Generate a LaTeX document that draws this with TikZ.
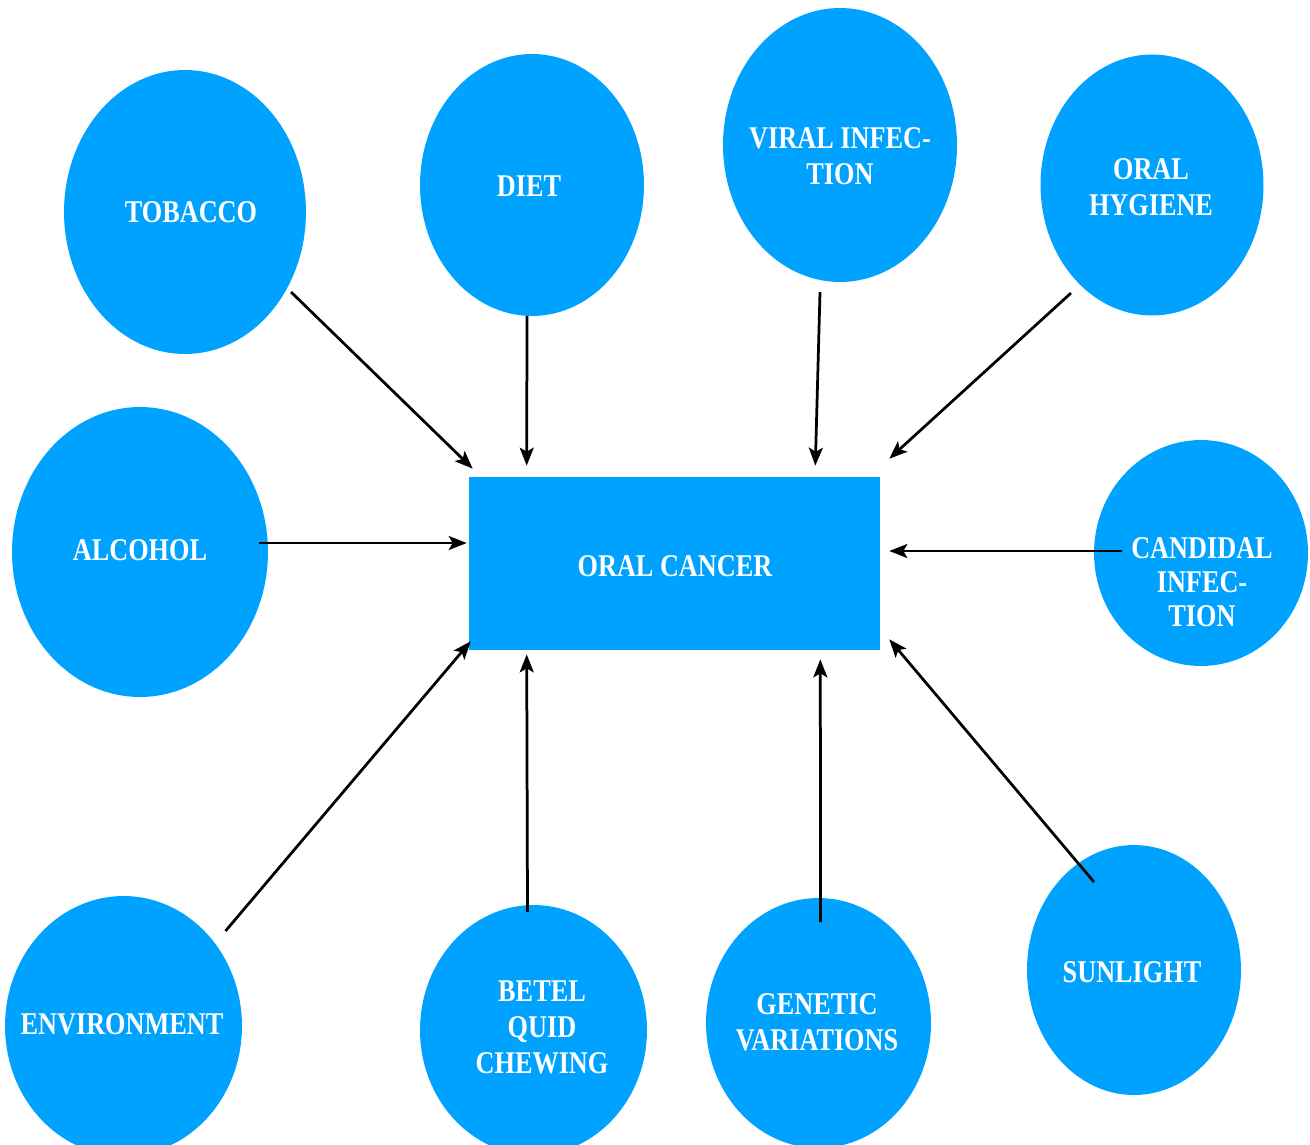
\documentclass[tikz,border=0pt]{standalone}
\usepackage{fontspec}
\usetikzlibrary{shapes.geometric,arrows.meta,calc}
\newfontfamily\lab[FakeStretch=0.83]{Liberation Serif}
\definecolor{bubble}{RGB}{0,162,255}
\begin{document}
\begin{tikzpicture}[x=0.02cm,y=-0.02cm,
  bub/.style={ellipse,fill=bubble,draw=none,inner sep=0pt},
  box/.style={rectangle,fill=bubble,draw=none,inner sep=0pt,
    minimum width=8.22cm,minimum height=3.46cm},
  txt/.style={text=white,align=center,font=\lab\bfseries\fontsize{18}{20.5}\selectfont,inner sep=0pt},
  arr/.style={draw=black,line width=0.055cm,
    -{Stealth[length=0.36cm,width=0.28cm,inset=0.08cm]}}]
\clip (0,0) rectangle (1310,1144);
\fill[white] (0,0) rectangle (1310,1144);

% central box
\node[box] (oc) at (674.5,563.5) {};
\node[txt] (oct) at (675,566) {ORAL CANCER};

% risk-factor bubbles
\node[bub,minimum width=4.84cm,minimum height=5.68cm] (tob) at (185,212) {};
\node[bub,minimum width=4.48cm,minimum height=5.24cm] (diet) at (532,185) {};
\node[bub,minimum width=4.68cm,minimum height=5.48cm] (vir) at (840,145) {};
\node[bub,minimum width=4.46cm,minimum height=5.22cm] (hyg) at (1152,185) {};
\node[bub,minimum width=5.12cm,minimum height=5.80cm] (alc) at (140,552) {};
\node[bub,minimum width=4.28cm,minimum height=4.52cm] (cand) at (1201,553) {};
\node[bub,minimum width=4.74cm,minimum height=5.20cm] (env) at (123.5,1026) {};
\node[bub,minimum width=4.54cm,minimum height=5.00cm] (bet) at (533.5,1030) {};
\node[bub,minimum width=4.50cm,minimum height=5.00cm] (gen) at (818.5,1023) {};
\node[bub,minimum width=4.28cm,minimum height=5.00cm] (sun) at (1134,970) {};

% labels
\node[txt] (tobt) at (191,212) {TOBACCO};
\node[txt] (diett) at (529,186) {DIET};
\node[txt] (virt) at (840,156) {VIRAL INFEC-\\TION};
\node[txt] (hygt) at (1151,187) {ORAL\\HYGIENE};
\node[txt] (alct) at (140,550) {ALCOHOL};
\node[txt,font=\lab\bfseries\fontsize{18}{19.5}\selectfont] (candt) at (1202,582) {CANDIDAL\\INFEC-\\TION};
\node[txt] (envt) at (122,1024) {ENVIRONMENT};
\node[txt] (bett) at (542,1027) {BETEL\\QUID\\CHEWING};
\node[txt] (gent) at (817,1022) {GENETIC\\VARIATIONS};
\node[txt] (sunt) at (1132,972) {SUNLIGHT};

% connectors
\draw[arr] ($(tob.center)+(106,80)$) -- ($(oc.north west)+(4,-8)$);
\draw[arr] ($(diet.center)+(-5,131)$) -- ($(oc.north west)+(58,-11)$);
\draw[arr] ($(vir.center)+(-20,147)$) -- ($(oc.north east)+(-65,-11)$);
\draw[arr] ($(hyg.center)+(-81,108)$) -- ($(oc.north east)+(9,-18)$);
\draw[arr] ($(alc.center)+(119,-9)$) -- ($(oc.west)+(-2,-20.5)$);
\draw[arr] ($(cand.center)+(-79,-2)$) -- ($(oc.east)+(9,-12.5)$);
\draw[arr] ($(env.center)+(102,-95)$) -- ($(oc.south west)+(2,-9)$);
\draw[arr] ($(bet.center)+(-6,-118)$) -- ($(oc.south west)+(58,4)$);
\draw[arr] ($(gen.center)+(2,-101)$) -- ($(oc.south east)+(-60,9)$);
\draw[arr] ($(sun.center)+(-40,-88)$) -- ($(oc.south east)+(9,-11)$);
\end{tikzpicture}
\end{document}
